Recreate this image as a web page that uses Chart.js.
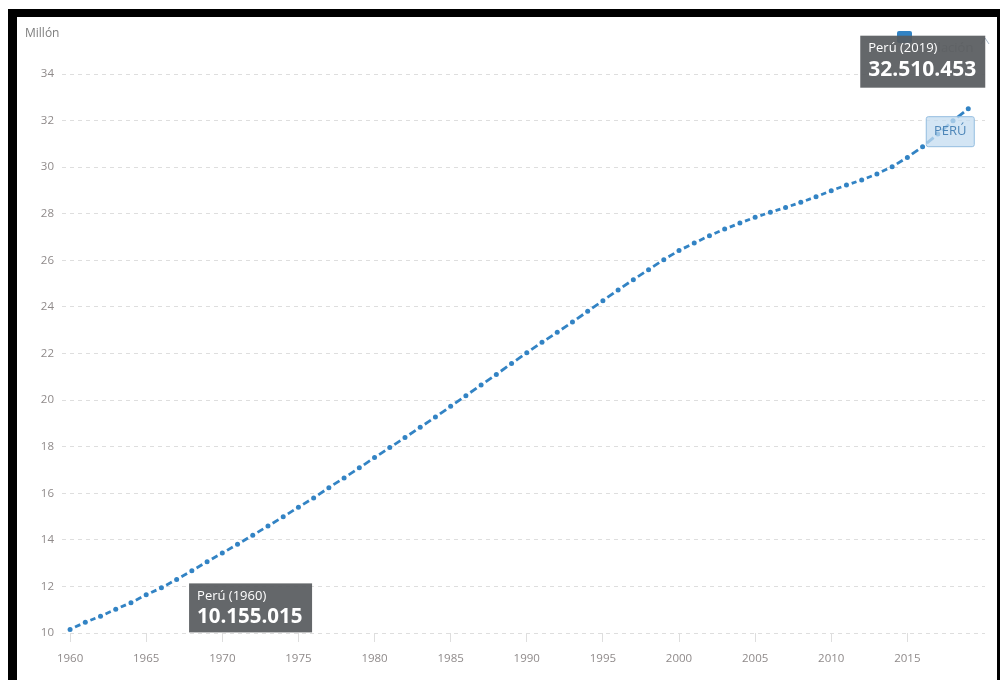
<!DOCTYPE html>
<html>
<head>
<meta charset="utf-8">
<script src="https://cdn.jsdelivr.net/npm/chart.js@4"></script>
<style>
  html, body { margin: 0; padding: 0; background: #fff; }
  #wrap { position: relative; width: 1001px; height: 680px; overflow: hidden; }
  #frame {
    position: absolute; left: 8px; top: 9px; width: 980px; height: 700px;
    border-left: 9px solid #000; border-top: 8px solid #000; border-right: 3px solid #000;
    pointer-events: none;
  }
</style>
</head>
<body>
<div id="wrap">
  <canvas id="chart" width="1001" height="680"></canvas>
  <div id="frame"></div>
</div>
<script>
'use strict';

const seriesName = 'Población';
const countryName = 'Perú';
const countryTag = 'PERÚ';
const unitLabel = 'Millón';

const years = [];
for (let y = 1960; y <= 2019; y++) years.push(y);

// population, millions
const population = [
    10.155015, 10.46, 10.72, 11.02, 11.30, 11.64, 11.94, 12.30, 12.67, 13.06,
    13.43, 13.81, 14.20, 14.59, 14.99, 15.40, 15.80, 16.24, 16.66, 17.09,
    17.53, 17.96, 18.39, 18.83, 19.27, 19.73, 20.19, 20.65, 21.10, 21.57,
    22.03, 22.48, 22.91, 23.35, 23.81, 24.27, 24.73, 25.17, 25.60, 26.03,
    26.42, 26.74, 27.06, 27.34, 27.60, 27.85, 28.06, 28.27, 28.49, 28.73,
    28.99, 29.23, 29.45, 29.71, 30.02, 30.42, 30.88, 31.42, 31.99, 32.510453
];

const xTicks = [1960, 1965, 1970, 1975, 1980, 1985, 1990, 1995, 2000, 2005, 2010, 2015];
const yTicks = [10, 12, 14, 16, 18, 20, 22, 24, 26, 28, 30, 32, 34];

const lineColor = '#3283c4';
const tickColor = '#8f8a8a';
const gridColor = '#dedede';

function formatPeople(v) {
    return String(Math.round(v * 1e6)).replace(/\B(?=(\d{3})+(?!\d))/g, '.');
}

// dash-dot look: each segment between two yearly dots gets one centred dash
let segCounter = 0;
function segLen(ctx) {
    const dx = ctx.p1.x - ctx.p0.x, dy = ctx.p1.y - ctx.p0.y;
    return Math.sqrt(dx * dx + dy * dy);
}

const overlays = {
    id: 'overlays',
    afterDatasetsDraw(chart) {
        const c = chart.ctx;
        const xs = chart.scales.x, ys = chart.scales.y;
        const last = population.length - 1;
        c.save();

        // legend behind the tooltip
        c.fillStyle = lineColor;
        c.beginPath();
        c.roundRect(897, 31, 15, 12, 2);
        c.fill();
        c.fillStyle = '#b4b4b4';
        c.font = '13px "Open Sans"';
        c.textBaseline = 'middle';
        c.fillText(seriesName, 914, 48);
        c.strokeStyle = '#a8b8c8';
        c.lineWidth = 1;
        c.beginPath();
        c.moveTo(981, 44); c.lineTo(985, 38); c.lineTo(989, 44);
        c.stroke();

        // country tag near the end of the line
        const tx = xs.getPixelForValue(years[last]) - 42;
        const ty = ys.getPixelForValue(population[last]) + 8;
        c.fillStyle = 'rgba(196,220,240,0.75)';
        c.strokeStyle = '#93bde0';
        c.beginPath();
        c.roundRect(tx, ty, 48, 30, 2);
        c.fill();
        c.stroke();
        c.fillStyle = '#4d86b8';
        c.font = '13px "Open Sans"';
        c.textAlign = 'center';
        c.fillText(countryTag, tx + 24, ty + 15);

        // value boxes
        function box(x, y, w, h, idx, size) {
            c.fillStyle = 'rgba(88,91,95,0.93)';
            c.fillRect(x, y, w, h);
            c.textAlign = 'left';
            c.fillStyle = '#fff';
            c.font = '13px "Open Sans"';
            c.fillText(countryName + ' (' + years[idx] + ')', x + 8, y + 13);
            c.font = 'bold ' + size + 'px "Open Sans"';
            c.fillText(formatPeople(population[idx]), x + 8, y + 34);
        }
        box(xs.getPixelForValue(years[0]) + 119, ys.getPixelForValue(population[0]) - 46, 123, 49, 0, 20.5);
        box(xs.getPixelForValue(years[last]) - 108, ys.getPixelForValue(population[last]) - 73, 125, 52, last, 21);
        c.restore();
    }
};

new Chart(document.getElementById('chart'), {
    type: 'line',
    data: {
        datasets: [{
            label: seriesName,
            data: years.map((y, i) => ({ x: y, y: population[i] })),
            borderColor: lineColor,
            backgroundColor: lineColor,
            borderWidth: 2.8,
            pointRadius: 2.5,
            pointBorderWidth: 0,
            pointBackgroundColor: lineColor,
            tension: 0,
            segment: {
                borderDash: ctx => {
                    const L = segLen(ctx);
                    return [Math.max(L - 11, 2), 60];
                },
                borderDashOffset: ctx => -5.5 - (segCounter++ % 2) * 1e-6
            }
        }]
    },
    options: {
        responsive: false,
        animation: false,
        layout: { padding: { top: 74, right: 16, left: 0, bottom: 0 } },
        plugins: { legend: { display: false }, tooltip: { enabled: false } },
        scales: {
            x: {
                type: 'linear',
                min: 1959.47,
                max: 2020.1,
                afterBuildTicks: s => { s.ticks = xTicks.map(v => ({ value: v })); },
                afterFit: s => { s.height = 47; },
                border: { display: false },
                grid: { drawOnChartArea: false, drawTicks: true, tickLength: 9, color: gridColor, lineWidth: 1 },
                ticks: { color: tickColor, padding: 10, font: { family: 'Open Sans', size: 11.5 }, callback: v => String(v) }
            },
            y: {
                min: 10,
                max: 34,
                afterBuildTicks: s => { s.ticks = yTicks.map(v => ({ value: v })); },
                afterFit: s => { s.width = 62; },
                border: { display: false, dash: [4, 4] },
                grid: { color: gridColor, lineWidth: 1, drawTicks: false },
                ticks: { color: tickColor, padding: 8, font: { family: 'Open Sans', size: 11.5 } }
            }
        }
    },
    plugins: [overlays, {
        id: 'unitLabel',
        afterDraw(chart) {
            const c = chart.ctx;
            c.save();
            c.fillStyle = '#7d7d7d';
            c.font = '12px "Open Sans"';
            c.textBaseline = 'middle';
            c.fillText(unitLabel, 25, 34);
            c.restore();
        }
    }]
});
</script>
</body>
</html>
